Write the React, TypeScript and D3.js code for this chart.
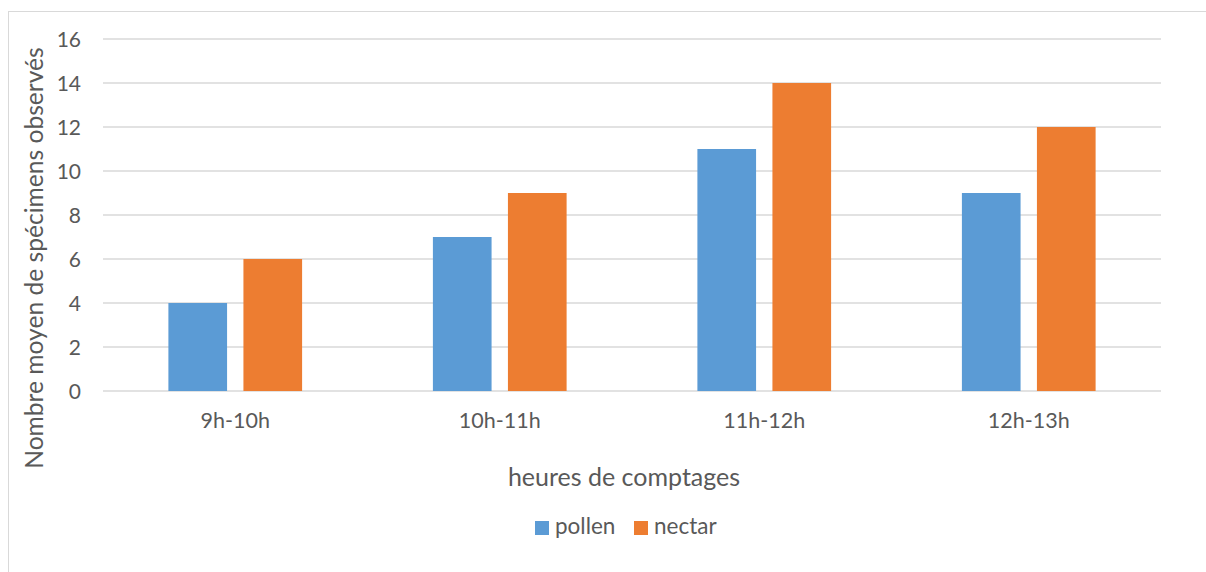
import { useEffect, useRef } from 'react';
import * as d3 from 'd3';

const categories = ['9h-10h', '10h-11h', '11h-12h', '12h-13h'];
const seriesNames = ['pollen', 'nectar'];
const pollen = [4, 7, 11, 9];
const nectar = [6, 9, 14, 12];
const yTicks = [0, 2, 4, 6, 8, 10, 12, 14, 16];

const colors = ['#5B9BD5', '#ED7D31'];
const FONT = 'Lato, "Open Sans", sans-serif';
const TEXT = '#595959';

const W = 1206;
const H = 572;

const App = () => {
  const ref = useRef<SVGSVGElement>(null);

  useEffect(() => {
    if (!ref.current) return;
    const svg = d3.select(ref.current);
    svg.selectAll('*').remove();

    const left = 103;
    const right = 1161;
    const top = 39;
    const bottom = 391;

    // chart frame (only top and left edges visible in the crop)
    svg.append('rect')
      .attr('x', 8.5).attr('y', 11.5)
      .attr('width', W + 10).attr('height', H + 10)
      .attr('fill', '#fff').attr('stroke', '#d9d9d9');

    const x0 = d3.scaleBand().domain(categories).range([left, right]).paddingInner(0).paddingOuter(0);
    const group = 133.7;
    const x1 = d3.scaleBand().domain(seriesNames).range([0, group]).paddingInner(0.218);
    const y = d3.scaleLinear().domain([0, 16]).range([bottom, top]);

    const g = svg.append('g');

    g.selectAll('line.grid')
      .data(yTicks)
      .enter()
      .append('line')
      .attr('x1', left).attr('x2', right)
      .attr('y1', (d) => y(d)).attr('y2', (d) => y(d))
      .attr('stroke', '#d9d9d9').attr('stroke-width', 1.3);

    g.selectAll('text.ytick')
      .data(yTicks)
      .enter()
      .append('text')
      .attr('x', 81)
      .attr('y', (d) => y(d))
      .attr('dy', '0.36em')
      .attr('text-anchor', 'end')
      .attr('font-family', FONT).attr('font-size', 21).attr('fill', TEXT)
      .text((d) => d);

    const values = [pollen, nectar];
    categories.forEach((c, i) => {
      const gx = (x0(c) || 0) + (x0.bandwidth() - group) / 2;
      seriesNames.forEach((s, j) => {
        const v = values[j][i];
        g.append('rect')
          .attr('x', gx + (x1(s) || 0))
          .attr('y', y(v))
          .attr('width', x1.bandwidth())
          .attr('height', y(0) - y(v))
          .attr('fill', colors[j]);
      });
      g.append('text')
        .attr('x', (x0(c) || 0) + x0.bandwidth() / 2)
        .attr('y', 428)
        .attr('text-anchor', 'middle')
        .attr('font-family', FONT).attr('font-size', 21.5).attr('fill', TEXT)
        .text(c);
    });

    // axis titles
    svg.append('text')
      .attr('x', 624)
      .attr('y', 486)
      .attr('text-anchor', 'middle')
      .attr('font-family', FONT).attr('font-size', 25).attr('fill', TEXT)
      .text('heures de comptages');

    svg.append('text')
      .attr('transform', `translate(43,258) rotate(-90)`)
      .attr('text-anchor', 'middle')
      .attr('font-family', FONT).attr('font-size', 24.6).attr('fill', TEXT)
      .text('Nombre moyen de spécimens observés');

    // legend
    const legendX = [535, 634];
    seriesNames.forEach((s, j) => {
      svg.append('rect')
        .attr('x', legendX[j]).attr('y', 521)
        .attr('width', 14).attr('height', 14)
        .attr('fill', colors[j]);
      svg.append('text')
        .attr('x', legendX[j] + 20).attr('y', 534)
        .attr('font-family', FONT).attr('font-size', 22.5).attr('fill', TEXT)
        .text(s);
    });
  }, []);

  return (
    <svg
      ref={ref}
      width={W}
      height={H}
      style={{ position: 'absolute', left: 0, top: 0, background: '#fff' }}
      role="img"
      aria-label="Nombre moyen de spécimens observés par heure"
    />
  );
};

export default App;
